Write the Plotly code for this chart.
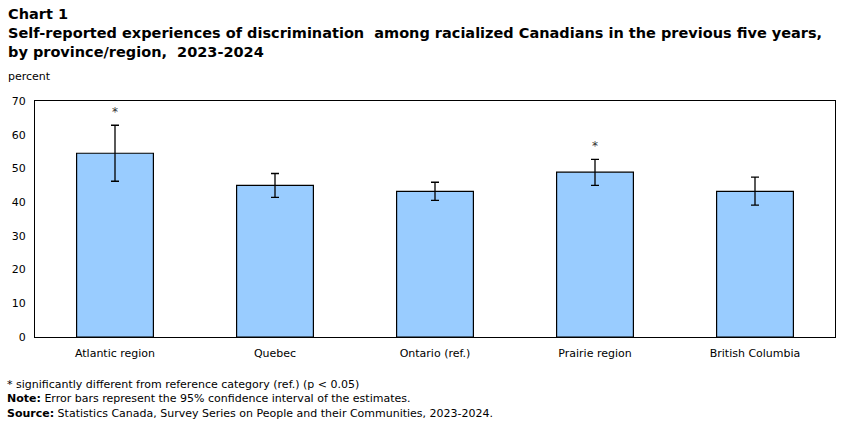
import plotly.graph_objects as go

categories = ["Atlantic region", "Quebec", "Ontario (ref.)", "Prairie region", "British Columbia"]
values = [54.5, 45.0, 43.2, 48.9, 43.2]
ci_upper = [62.8, 48.5, 45.9, 52.7, 47.4]
ci_lower = [46.2, 41.4, 40.5, 45.0, 39.1]
significant = [True, False, False, True, False]
y_ticks = [0, 10, 20, 30, 40, 50, 60, 70]

err_plus = [u - v for u, v in zip(ci_upper, values)]
err_minus = [v - l for v, l in zip(values, ci_lower)]

FONT = "Verdana, DejaVu Sans, sans-serif"
PW, PH, PL, PB = 803, 236, 32, 337


def px(x):
    return (x - PL) / PW


def py(y):
    return (PB - y) / PH


fig = go.Figure()
fig.add_trace(go.Bar(
    x=categories, y=values, width=0.48,
    marker=dict(color="#99CCFF", line=dict(color="black", width=1.2)),
    error_y=dict(type="data", symmetric=False, array=err_plus, arrayminus=err_minus,
                 color="black", thickness=1.3, width=4),
    showlegend=False, hoverinfo="x+y",
))

for c, u, s in zip(categories, ci_upper, significant):
    if s:
        fig.add_annotation(x=c, y=u, text="*", showarrow=False, yshift=13,
                           font=dict(family=FONT, size=12, color="#333"))

fig.update_layout(
    width=851, height=424,
    margin=dict(l=32, r=16, t=101, b=87),
    plot_bgcolor="white", paper_bgcolor="white",
    font=dict(family=FONT, size=11, color="black"),
    xaxis=dict(showline=True, linecolor="black", linewidth=1.2, mirror=True,
               ticks="", showgrid=False, tickfont=dict(size=11), ticklabelstandoff=6),
    yaxis=dict(range=[0, 70], tickvals=y_ticks, showline=True, linecolor="black",
               linewidth=1.2, mirror=True, ticks="", showgrid=False, zeroline=False,
               tickfont=dict(size=11), ticklabelstandoff=6),
)

fig.add_annotation(xref="paper", yref="paper", x=px(3), y=py(4), xanchor="left", yanchor="top",
                   text="<b>Chart 1<br>Self-reported experiences of discrimination  among racialized Canadians in the previous five years,<br>by province/region,  2023-2024</b>",
                   showarrow=False, align="left", font=dict(family=FONT, size=14.5))

fig.add_annotation(xref="paper", yref="paper", x=px(3), y=py(76), xanchor="left", yanchor="middle",
                   text="percent", showarrow=False, font=dict(family=FONT, size=11))

foot = ("* significantly different from reference category (ref.) (p &lt; 0.05)<br>"
        "<b>Note:</b> Error bars represent the 95% confidence interval of the estimates.<br>"
        "<b>Source:</b> Statistics Canada, Survey Series on People and their Communities, 2023-2024.")
fig.add_annotation(xref="paper", yref="paper", x=px(2), y=py(376), xanchor="left", yanchor="top",
                   text=foot, showarrow=False, align="left", font=dict(family=FONT, size=11))

fig.write_html("out.html")
